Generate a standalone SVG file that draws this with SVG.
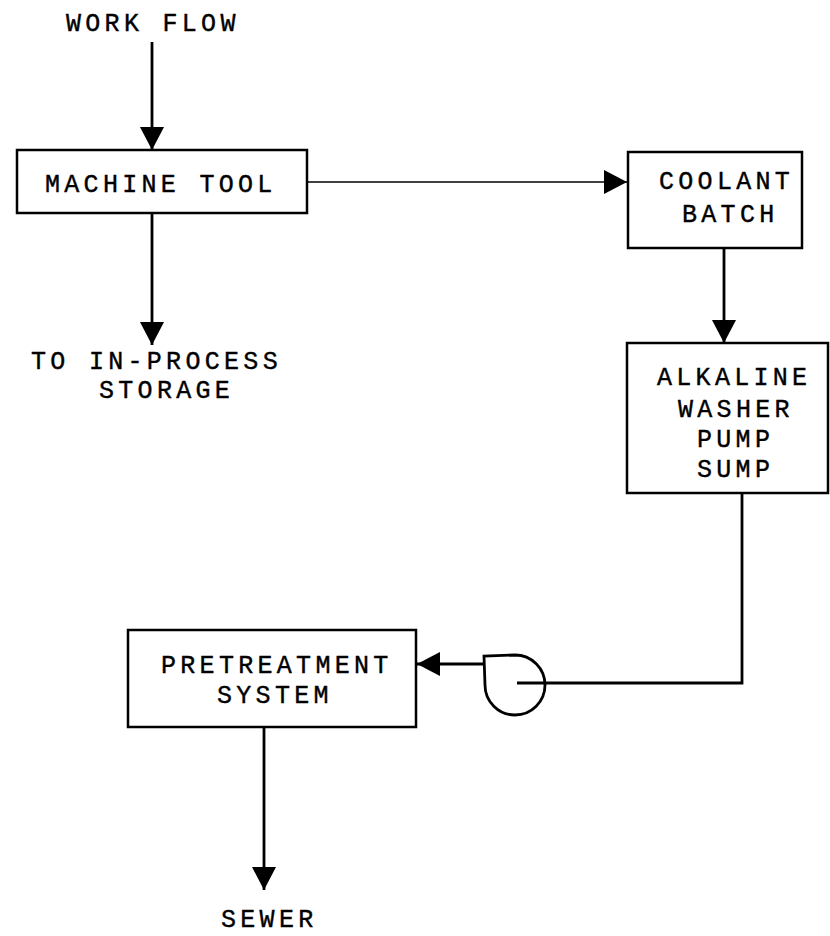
<svg xmlns="http://www.w3.org/2000/svg" width="830" height="936" viewBox="0 0 830 936">
<defs>
<style>
.box{fill:#fff;stroke:#000;stroke-width:2.5}
.t{font-family:"Liberation Mono","Courier New",monospace;font-size:25px;letter-spacing:4.3px;fill:#000;stroke:#000;stroke-width:0.4}
.ln{fill:none;stroke:#000;stroke-width:2.8}
.thin{fill:none;stroke:#000;stroke-width:1.6}
</style>
<marker id="ah" markerUnits="userSpaceOnUse" markerWidth="24" markerHeight="24" refX="23" refY="12" orient="auto">
<path d="M0,0 L23,12 L0,24 Z" fill="#000"/>
</marker>
</defs>
<rect width="830" height="936" fill="#fff"/>
<g id="connectors">
<line class="ln" x1="152" y1="42" x2="152" y2="150" marker-end="url(#ah)"/>
<line class="ln" x1="152" y1="213" x2="152" y2="345" marker-end="url(#ah)"/>
<line class="thin" x1="307" y1="182" x2="627" y2="182" marker-end="url(#ah)"/>
<line class="ln" x1="724" y1="248" x2="724" y2="343" marker-end="url(#ah)"/>
<polyline class="ln" points="742,493 742,683 517,683"/>
<line class="ln" x1="483" y1="664" x2="417" y2="664" marker-end="url(#ah)"/>
<line class="ln" x1="264" y1="727" x2="264" y2="890" marker-end="url(#ah)"/>
</g>
<g id="work-flow"><text class="t" x="66" y="31">WORK FLOW</text></g>
<g id="machine-tool">
<rect class="box" x="17" y="150" width="290" height="63"/>
<text class="t" x="45" y="192">MACHINE TOOL</text>
</g>
<g id="in-process">
<text class="t" x="31" y="369">TO IN-PROCESS</text>
<text class="t" x="99" y="398">STORAGE</text>
</g>
<g id="coolant-batch">
<rect class="box" x="628" y="152" width="174" height="96"/>
<text class="t" x="659" y="189">COOLANT</text>
<text class="t" x="682" y="222">BATCH</text>
</g>
<g id="alkaline-washer">
<rect class="box" x="627" y="343" width="201" height="150"/>
<text class="t" x="657" y="385">ALKALINE</text>
<text class="t" x="678" y="417">WASHER</text>
<text class="t" x="697" y="447">PUMP</text>
<text class="t" x="697" y="477">SUMP</text>
</g>
<g id="pump">
<path class="ln" d="M515,655 A30,30 0 1 1 485,685 L484,656 Z"/>
</g>
<g id="pretreatment">
<rect class="box" x="128" y="630" width="288" height="97"/>
<text class="t" x="161" y="673">PRETREATMENT</text>
<text class="t" x="217" y="703">SYSTEM</text>
</g>
<g id="sewer"><text class="t" x="221" y="927">SEWER</text></g>
</svg>
